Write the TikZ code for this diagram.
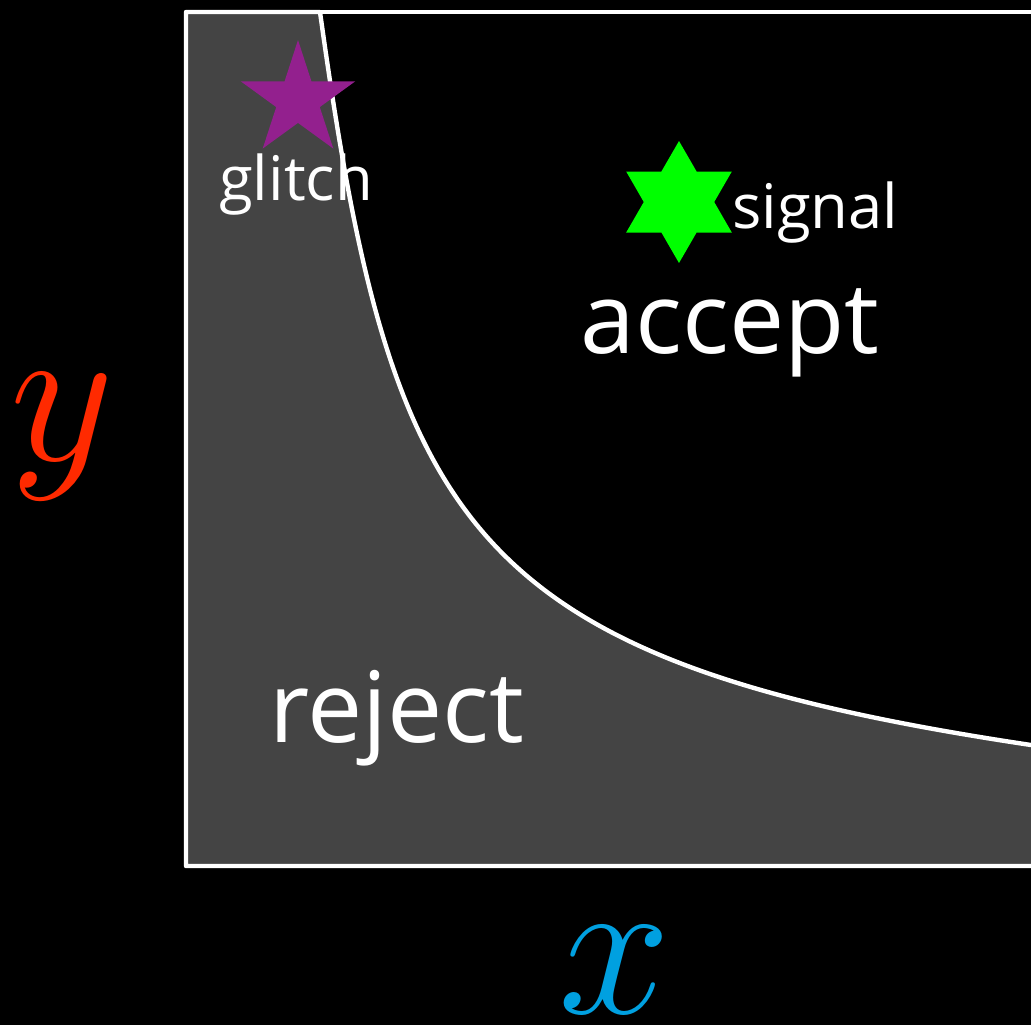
\documentclass[tikz,border=0pt]{standalone}
\usepackage{fontspec}
\setmainfont{Open Sans}
\usetikzlibrary{shapes,positioning}
\definecolor{rejectgray}{RGB}{68,68,68}
\definecolor{glitchpurple}{RGB}{147,32,142}
\definecolor{signalgreen}{RGB}{0,255,0}
\definecolor{yred}{RGB}{255,42,0}
\definecolor{xblue}{RGB}{0,160,224}

\begin{document}
\begin{tikzpicture}[x=0.02cm, y=-0.02cm,
    small label/.style={text=white, inner sep=0pt, font=\fontsize{35}{40}\selectfont},
    big label/.style={text=white, inner sep=0pt, font=\fontsize{56}{60}\selectfont},
    axis label/.style={inner sep=0pt, font=\Huge, scale=4.62}]
    % Background
    \fill[black] (0,0) rectangle (1031,1025);
    \useasboundingbox (0,0) rectangle (1031,1025);
    \clip (0,0) rectangle (1031,1025);

    % Reject region with the cut
    \draw[white, line width=2.5pt, line join=round, fill=rejectgray]
        (186,866) -- (186,12) -- (320,12)
        .. controls (392,528) and (464,660) .. (1031,745) -- (1060,749)
        -- (1060,866) -- cycle;
    \draw[white, line width=2.5pt] (320,12) -- (1060,12);

    % Events
    \node[star, star points=5, star point ratio=2.618, fill=glitchpurple,
        inner sep=0pt, minimum size=2.4cm] (glitchstar) at (298,100) {};
    \node[star, star points=6, star point ratio=1.732, fill=signalgreen,
        inner sep=0pt, minimum size=2.44cm] (signalstar) at (679,202) {};
    \node[small label, anchor=base] (glitch) at (296,200) {glitch};
    \node[small label, anchor=base west] (signal) at (732,228) {signal};

    % Regions
    \node[big label, anchor=base] (accept) at (730,353) {accept};
    \node[big label, anchor=base] (reject) at (397,742) {reject};

    % Axes
    \node[axis label, text=yred] (ylabel) at (62,437) {$y$};
    \node[axis label, text=xblue] (xlabel) at (615,970) {$x$};
\end{tikzpicture}
\end{document}
